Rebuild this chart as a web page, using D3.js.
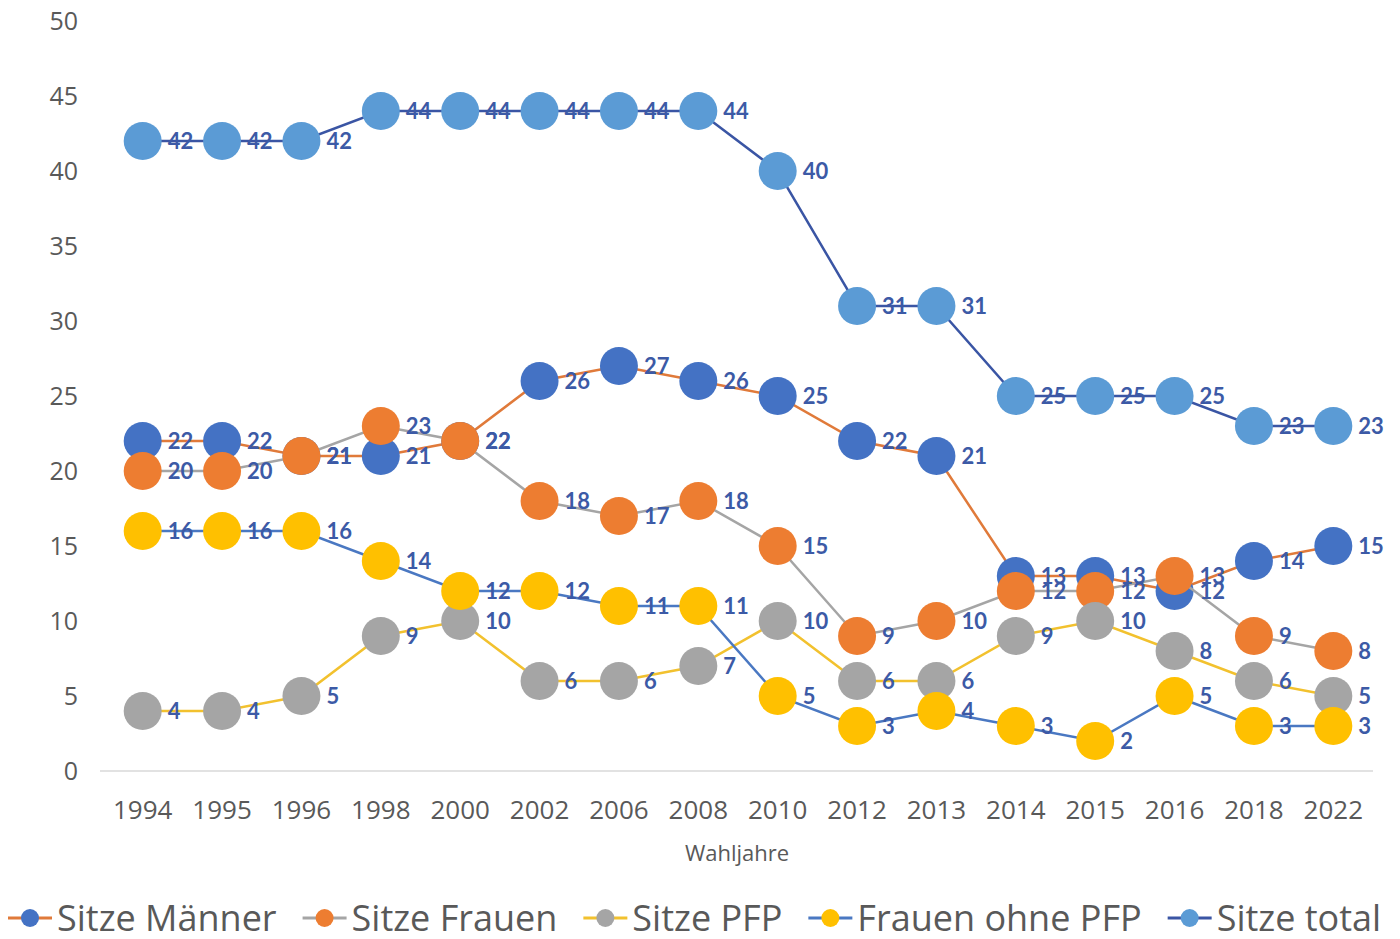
<!DOCTYPE html>
<html><head><meta charset="utf-8">
<script src="https://cdn.jsdelivr.net/npm/d3@7"></script>
<style>
html,body{margin:0;padding:0;background:#fff;}
svg{display:block;}
</style></head>
<body>
<svg id="chart" width="1400" height="939"></svg>
<script>
const years = ["1994","1995","1996","1998","2000","2002","2006","2008","2010","2012","2013","2014","2015","2016","2018","2022"];
const sitzeMaenner = [22,22,21,21,22,26,27,26,25,22,21,13,13,12,14,15];
const sitzeFrauen = [20,20,21,23,22,18,17,18,15,9,10,12,12,13,9,8];
const sitzePFP = [4,4,5,9,10,6,6,7,10,6,6,9,10,8,6,5];
const frauenOhnePFP = [16,16,16,14,12,12,11,11,5,3,4,3,2,5,3,3];
const sitzeTotal = [42,42,42,44,44,44,44,44,40,31,31,25,25,25,23,23];
const seriesNames = ["Sitze Männer","Sitze Frauen","Sitze PFP","Frauen ohne PFP","Sitze total"];
const yTicks = [0,5,10,15,20,25,30,35,40,45,50];
const xTitle = "Wahljahre";

const markerColors = ["#4472C4","#ED7D31","#A5A5A5","#FFC000","#5B9BD5"];
const lineColors = ["#E07A3A","#A5A5A5","#F2C12E","#4A78C2","#3A55A4"];
const labelColor = "#3C5AA6";

const series = [sitzeMaenner,sitzeFrauen,sitzePFP,frauenOhnePFP,sitzeTotal].map((v,i)=>({name:seriesNames[i],values:v,mc:markerColors[i],lc:lineColors[i]}));

const svg = d3.select("#chart");
const x = d3.scalePoint().domain(years).range([103,1373]).padding(0.5);
const y = d3.scaleLinear().domain([0,50]).range([771,21]);

// y axis labels
svg.append("g").selectAll("text").data(yTicks).join("text")
  .attr("x",78).attr("y",d=>y(d)).attr("dy","0.35em")
  .attr("text-anchor","end")
  .attr("font-family","'Open Sans', sans-serif").attr("font-size",25)
  .attr("fill","#595959").text(d=>d);

// x axis line
svg.append("line").attr("x1",100).attr("x2",1373).attr("y1",y(0)).attr("y2",y(0))
  .attr("stroke","#D9D9D9").attr("stroke-width",1.5);

// x tick labels
svg.append("g").selectAll("text").data(years).join("text")
  .attr("x",d=>x(d)).attr("y",810).attr("dy","0.35em")
  .attr("text-anchor","middle")
  .attr("font-family","'Open Sans', sans-serif").attr("font-size",26)
  .attr("fill","#595959").text(d=>d);

svg.append("text").attr("x",737).attr("y",853).attr("dy","0.35em")
  .attr("text-anchor","middle")
  .attr("font-family","'Open Sans', sans-serif").attr("font-size",22)
  .attr("fill","#595959").text(xTitle);

const line = d3.line().x((d,i)=>x(years[i])).y(d=>y(d));

series.forEach(s=>{
  const g = svg.append("g");
  g.append("path").attr("d",line(s.values)).attr("fill","none")
    .attr("stroke",s.lc).attr("stroke-width",2.5);
  g.selectAll("circle").data(s.values).join("circle")
    .attr("cx",(d,i)=>x(years[i])).attr("cy",d=>y(d)).attr("r",19)
    .attr("fill",s.mc);
});

series.forEach(s=>{
  svg.append("g").selectAll("text").data(s.values).join("text")
    .attr("x",(d,i)=>x(years[i])+25).attr("y",d=>y(d)).attr("dy","0.38em")
    .attr("font-family","Lato, sans-serif").attr("font-weight","bold").attr("font-size",22)
    .attr("fill",labelColor).text(d=>d);
});

// legend
const lg = svg.append("g");
let lx = 8;
const ly = 918;
series.forEach(s=>{
  const g = lg.append("g");
  g.append("line").attr("x1",lx).attr("x2",lx+44).attr("y1",ly).attr("y2",ly)
    .attr("stroke",s.lc).attr("stroke-width",3);
  g.append("circle").attr("cx",lx+22).attr("cy",ly).attr("r",9).attr("fill",s.mc);
  const t = g.append("text").attr("x",lx+49).attr("y",ly).attr("dy","0.35em")
    .attr("font-family","'Open Sans', sans-serif").attr("font-size",36)
    .attr("fill","#595959").text(s.name);
  lx += 49 + t.node().getComputedTextLength() + 26;
});
</script>
</body></html>
